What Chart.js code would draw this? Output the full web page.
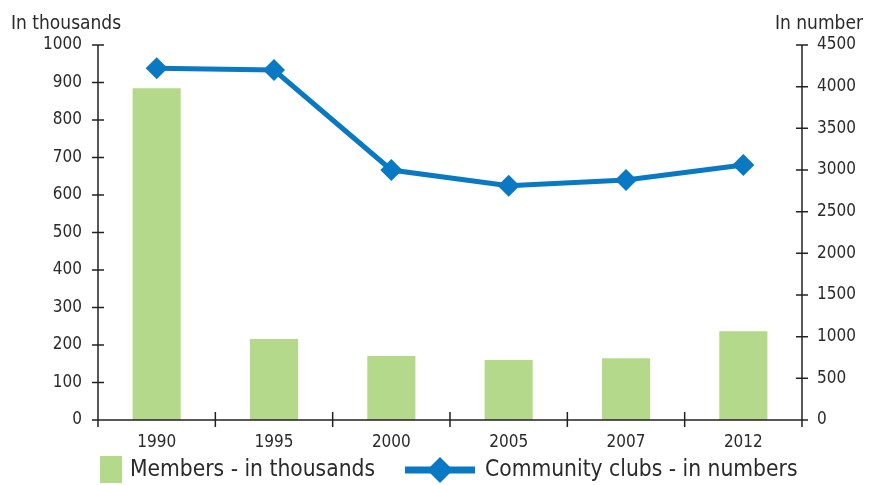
<!DOCTYPE html>
<html>
<head>
<meta charset="utf-8">
<script src="https://cdn.jsdelivr.net/npm/chart.js@4/dist/chart.umd.min.js"></script>
<style>
html,body{margin:0;padding:0;background:#fff;}
#wrap{width:873px;height:485px;position:relative;}
</style>
</head>
<body>
<div id="wrap"><canvas id="c" width="873" height="485"></canvas></div>
<script>
const categories = ["1990", "1995", "2000", "2005", "2007", "2012"];
const members = [885, 216, 171, 160, 165, 237];
const clubs = [4220, 4200, 3000, 2810, 2880, 3060];
const leftTicks = [0, 100, 200, 300, 400, 500, 600, 700, 800, 900, 1000];
const rightTicks = [0, 500, 1000, 1500, 2000, 2500, 3000, 3500, 4000, 4500];
const seriesNames = ["Members - in thousands", "Community clubs - in numbers"];
const leftTitle = "In thousands";
const rightTitle = "In number";

const FONT = "'Liberation Sans Narrow', 'DejaVu Sans Condensed', 'Liberation Sans', sans-serif";
const TXT = '#2a2a2a';
const GREEN = '#b5d98a';
const BLUE = '#0a79c3';

const crossTicks = {
  id: 'crossTicks',
  afterDraw(chart) {
    const ctx = chart.ctx;
    const ca = chart.chartArea;
    const x = chart.scales.x, yl = chart.scales.y, yr = chart.scales.y1;
    ctx.save();
    ctx.strokeStyle = '#222';
    ctx.lineWidth = 1.5;
    ctx.beginPath();
    ctx.moveTo(ca.left, ca.top); ctx.lineTo(ca.left, ca.bottom + 1);
    ctx.moveTo(ca.right, ca.top); ctx.lineTo(ca.right, ca.bottom + 1);
    ctx.moveTo(ca.left, ca.bottom); ctx.lineTo(ca.right, ca.bottom);
    yl.ticks.forEach((t, i) => {
      const p = yl.getPixelForTick(i);
      ctx.moveTo(ca.left - 6, p); ctx.lineTo(ca.left + 6, p);
    });
    yr.ticks.forEach((t, i) => {
      const p = yr.getPixelForTick(i);
      ctx.moveTo(ca.right - 6, p); ctx.lineTo(ca.right + 6, p);
    });
    for (let i = 1; i < categories.length; i++) {
      const p = (x.getPixelForValue(i - 1) + x.getPixelForValue(i)) / 2;
      ctx.moveTo(p, ca.bottom - 8); ctx.lineTo(p, ca.bottom + 7);
    }
    ctx.moveTo(ca.left, ca.bottom); ctx.lineTo(ca.left, ca.bottom + 7);
    ctx.moveTo(ca.right, ca.bottom); ctx.lineTo(ca.right, ca.bottom + 7);
    ctx.stroke();

    ctx.fillStyle = TXT;
    ctx.font = "19px " + FONT;
    ctx.textBaseline = 'alphabetic';
    ctx.textAlign = 'left';
    ctx.fillText(leftTitle, 11, 29);
    ctx.textAlign = 'right';
    ctx.fillText(rightTitle, 863, 29);

    const ly = 470;
    ctx.fillStyle = GREEN;
    ctx.fillRect(100, 456, 22, 27);
    ctx.fillStyle = TXT;
    ctx.font = "22.6px " + FONT;
    ctx.textAlign = 'left';
    ctx.textBaseline = 'middle';
    ctx.fillText(seriesNames[0], 130, ly);
    ctx.strokeStyle = BLUE;
    ctx.lineWidth = 7;
    ctx.beginPath();
    ctx.moveTo(405, ly); ctx.lineTo(475, ly);
    ctx.stroke();
    ctx.fillStyle = BLUE;
    ctx.beginPath();
    ctx.moveTo(440, ly - 13); ctx.lineTo(453, ly); ctx.lineTo(440, ly + 13); ctx.lineTo(427, ly);
    ctx.closePath(); ctx.fill();
    ctx.fillStyle = TXT;
    ctx.fillText(seriesNames[1], 485, ly);
    ctx.restore();
  }
};

new Chart(document.getElementById('c'), {
  data: {
    labels: categories,
    datasets: [
      {
        type: 'line',
        label: seriesNames[1],
        data: clubs,
        yAxisID: 'y1',
        borderColor: BLUE,
        backgroundColor: BLUE,
        borderWidth: 5,
        pointStyle: 'rectRot',
        pointRadius: 11,
        pointHoverRadius: 11,
        pointBackgroundColor: BLUE,
        pointBorderWidth: 0,
        tension: 0,
        order: 0
      },
      {
        type: 'bar',
        label: seriesNames[0],
        data: members,
        yAxisID: 'y',
        backgroundColor: GREEN,
        borderWidth: 0,
        categoryPercentage: 1.0,
        barPercentage: 0.41,
        order: 1
      }
    ]
  },
  options: {
    responsive: false,
    animation: false,
    layout: { padding: { left: 0, right: 0, top: 45, bottom: 20 } },
    plugins: { legend: { display: false }, tooltip: { enabled: false } },
    scales: {
      x: {
        grid: { display: false },
        border: { display: false },
        ticks: { color: TXT, font: { family: FONT, size: 17 }, padding: 4, maxRotation: 0 },
        afterFit(s) { s.height = 45; }
      },
      y: {
        position: 'left',
        min: 0, max: 1000,
        afterBuildTicks(s) { s.ticks = leftTicks.map(v => ({ value: v })); },
        grid: { display: false },
        border: { display: false },
        ticks: { color: TXT, font: { family: FONT, size: 17 }, padding: 8, callback: v => String(v) },
        afterFit(s) { s.width = 98; }
      },
      y1: {
        position: 'right',
        min: 0, max: 4500,
        afterBuildTicks(s) { s.ticks = rightTicks.map(v => ({ value: v })); },
        grid: { display: false },
        border: { display: false },
        ticks: { color: TXT, font: { family: FONT, size: 17 }, padding: 7, callback: v => String(v) },
        afterFit(s) { s.width = 71; }
      }
    }
  },
  plugins: [crossTicks]
});
</script>
</body>
</html>
